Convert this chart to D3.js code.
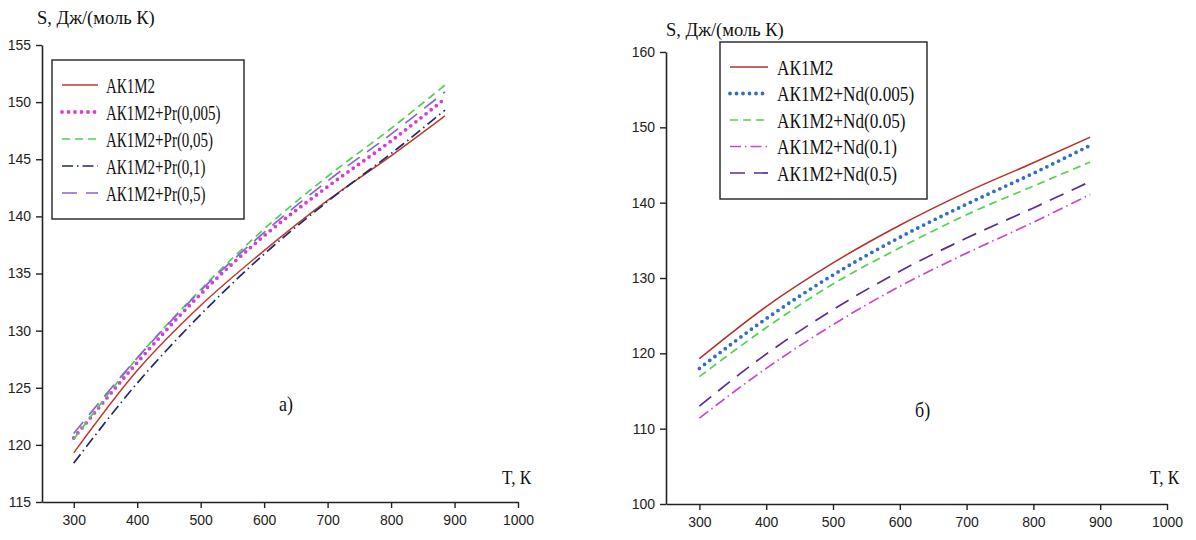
<!DOCTYPE html>
<html>
<head>
<meta charset="utf-8">
<script src="https://cdn.jsdelivr.net/npm/d3@7"></script>
<style>
  html, body { margin: 0; padding: 0; background: #fff; }
  svg { display: block; }
</style>
</head>
<body>
<svg id="chart" width="1196" height="540"></svg>
<script>
// Temperature grid (K) shared by all curves
const temps = [300, 400, 500, 600, 700, 800, 885];

// Panel a): AK1M2 alloy with praseodymium additions
const prLabels = ["АК1М2", "АК1М2+Pr(0,005)", "АК1М2+Pr(0,05)", "АК1М2+Pr(0,1)", "АК1М2+Pr(0,5)"];
const prBase   = [119.3, 126.5, 132.2, 137.0, 141.4, 145.3, 148.8];
const pr0005   = [120.6, 127.2, 133.2, 138.3, 142.6, 146.6, 150.3];
const pr005    = [120.5, 127.6, 133.6, 138.9, 143.5, 147.7, 151.5];
const pr01     = [118.4, 125.4, 131.4, 136.7, 141.3, 145.5, 149.3];
const pr05     = [121.0, 127.6, 133.5, 138.6, 143.1, 147.2, 150.9];

// Panel б): AK1M2 alloy with neodymium additions
const ndLabels = ["АК1М2", "АК1М2+Nd(0.005)", "АК1М2+Nd(0.05)", "АК1М2+Nd(0.1)", "АК1М2+Nd(0.5)"];
const ndBase   = [119.3, 126.2, 132.0, 137.0, 141.4, 145.3, 148.7];
const nd0005   = [118.0, 124.6, 130.4, 135.4, 139.8, 143.9, 147.6];
const nd005    = [116.9, 123.4, 129.2, 134.0, 138.4, 142.2, 145.4];
const nd01     = [111.4, 118.0, 123.8, 128.9, 133.3, 137.4, 141.1];
const nd05     = [113.0, 119.9, 125.8, 130.9, 135.3, 139.3, 142.8];

// Axis ticks
const xTicks   = [300, 400, 500, 600, 700, 800, 900, 1000];
const yTicksPr = [115, 120, 125, 130, 135, 140, 145, 150, 155];
const yTicksNd = [100, 110, 120, 130, 140, 150, 160];

const SERIF = "'Liberation Serif', 'Times New Roman', serif";
const SANS  = "'Liberation Sans', Arial, sans-serif";

const svg = d3.select("#chart");

// Line styles: solid, dotted, dashed, dash-dot, long dash
const styles = {
  solid:   { dash: null,          width: 1.5, cap: "butt" },
  dotted:  { dash: "0,6.5",       width: 3.8, cap: "round" },
  dashed:  { dash: "8,5",         width: 1.7, cap: "butt" },
  dashdot: { dash: "11,4,1.5,4",  width: 1.7, cap: "butt" },
  longdash:{ dash: "15,9",        width: 1.7, cap: "butt" }
};

function panel(cfg) {
  const g = svg.append("g");
  const x = d3.scaleLinear().domain([250, 1000]).range(cfg.xr);
  const y = d3.scaleLinear().domain(cfg.yd).range(cfg.yr);
  const fmt = d3.format("d");

  const xAxis = g.append("g")
    .attr("transform", `translate(0,${cfg.yr[0]})`)
    .call(d3.axisBottom(x).tickValues(xTicks).tickFormat(fmt)
      .tickSize(6).tickSizeOuter(0).tickPadding(7));
  const yAxis = g.append("g")
    .attr("transform", `translate(${cfg.xr[0]},0)`)
    .call(d3.axisLeft(y).tickValues(cfg.yTicks).tickFormat(fmt)
      .tickSize(6).tickSizeOuter(0).tickPadding(5));
  [xAxis, yAxis].forEach(a => {
    a.attr("font-family", SANS).attr("font-size", 14);
    a.select(".domain").attr("stroke", "#222").attr("stroke-width", 1.6);
    a.selectAll(".tick line").attr("stroke", "#222").attr("stroke-width", 1.4);
    a.selectAll(".tick text").attr("fill", "#222");
  });

  const line = d3.line()
    .x((d, i) => x(temps[i]))
    .y(d => y(d))
    .curve(d3.curveMonotoneX);

  cfg.series.forEach(s => {
    const st = styles[s.style];
    g.append("path")
      .datum(s.values)
      .attr("d", line)
      .attr("fill", "none")
      .attr("stroke", s.color)
      .attr("stroke-width", st.width)
      .attr("stroke-linecap", st.cap)
      .attr("stroke-dasharray", st.dash);
  });

  // Serif text, optionally narrowed horizontally
  const serifText = (xx, yy, size, txt, sx = 1) =>
    g.append("text")
      .attr("transform", `translate(${xx},${yy}) scale(${sx},1)`)
      .attr("font-family", SERIF).attr("font-size", size)
      .attr("fill", "#111").text(txt);

  // Axis titles and panel tag
  serifText(cfg.yTitle[0], cfg.yTitle[1], 18.5, "S, Дж/(моль К)");
  serifText(cfg.xTitle[0], cfg.xTitle[1], 19, "T, К", 0.9);
  serifText(cfg.tag[0], cfg.tag[1], 20, cfg.tagText, 0.9);

  // Legend
  const L = cfg.legend;
  g.append("rect")
    .attr("x", L.x).attr("y", L.y).attr("width", L.w).attr("height", L.h)
    .attr("fill", "#fff").attr("stroke", "#222").attr("stroke-width", 1.4);
  cfg.series.forEach((s, i) => {
    const st = styles[s.style];
    const yy = L.y + L.first + i * L.step;
    g.append("line")
      .attr("x1", L.x + L.s0).attr("x2", L.x + L.s1)
      .attr("y1", yy).attr("y2", yy)
      .attr("stroke", s.color)
      .attr("stroke-width", st.width)
      .attr("stroke-linecap", st.cap)
      .attr("stroke-dasharray", st.dash);
    serifText(L.x + L.tx, yy + 7.5, 20, s.label, L.sx);
  });
}

panel({
  xr: [42, 518], yd: [115, 155], yr: [502, 45], yTicks: yTicksPr,
  yTitle: [37, 24], xTitle: [502, 484], tag: [279, 411], tagText: "а)",
  legend: { x: 52, y: 60, w: 192, h: 159, first: 25, step: 27, s0: 10, s1: 46, tx: 54, sx: 0.75 },
  series: [
    { label: prLabels[0], values: prBase, color: "#c0392b", style: "solid" },
    { label: prLabels[1], values: pr0005, color: "#d23fd6", style: "dotted" },
    { label: prLabels[2], values: pr005,  color: "#4fd14f", style: "dashed" },
    { label: prLabels[3], values: pr01,   color: "#1e2a6b", style: "dashdot" },
    { label: prLabels[4], values: pr05,   color: "#8c63d9", style: "longdash" }
  ]
});

panel({
  xr: [666, 1167], yd: [100, 160], yr: [504, 52], yTicks: yTicksNd,
  yTitle: [666, 36], xTitle: [1150, 484], tag: [915, 417], tagText: "б)",
  legend: { x: 720, y: 42, w: 207, h: 157, first: 25, step: 26.5, s0: 10, s1: 48, tx: 57, sx: 0.86 },
  series: [
    { label: ndLabels[0], values: ndBase, color: "#b5302a", style: "solid" },
    { label: ndLabels[1], values: nd0005, color: "#2f6fc4", style: "dotted" },
    { label: ndLabels[2], values: nd005,  color: "#52d44a", style: "dashed" },
    { label: ndLabels[3], values: nd01,   color: "#cc46cc", style: "dashdot" },
    { label: ndLabels[4], values: nd05,   color: "#5a2e91", style: "longdash" }
  ]
});
</script>
</body>
</html>
